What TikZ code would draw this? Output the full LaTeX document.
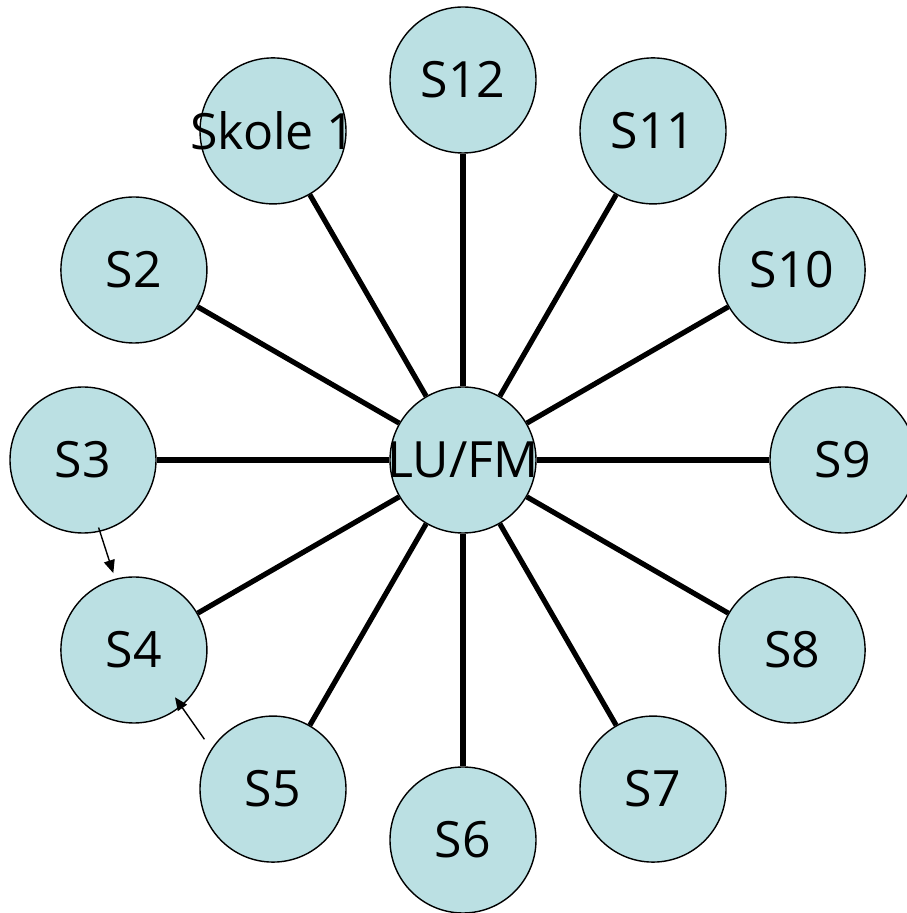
\documentclass[tikz,border=0pt]{standalone}
\usepackage{fontspec}
\setmainfont{Open Sans}
\usetikzlibrary{calc,arrows.meta}
\definecolor{nodefill}{HTML}{BBE0E3}
\tikzset{
  circ/.style={circle,draw=black,line width=1.4pt,fill=nodefill,minimum size=146pt,inner sep=0pt},
  spoke/.style={line width=5.2pt,black},
  lbl/.style={font=\fontsize{50}{58}\selectfont,inner sep=0pt},
  thinarrow/.style={line width=1.4pt,-{Triangle[length=13pt,width=11pt]}}
}
\begin{document}
\begin{tikzpicture}[x=1pt,y=1pt]
\useasboundingbox (0,0) rectangle (906,913);
\coordinate (Cc) at (463,453);
\node[circ] (C) at (Cc) {};
\node[circ] (S12) at ($(Cc)+(90:380pt)$) {};
\node[circ] (S1) at ($(Cc)+(120:380pt)$) {};
\node[circ] (S2) at ($(Cc)+(150:380pt)$) {};
\node[circ] (S3) at ($(Cc)+(180:380pt)$) {};
\node[circ] (S4) at ($(Cc)+(210:380pt)$) {};
\node[circ] (S5) at ($(Cc)+(240:380pt)$) {};
\node[circ] (S6) at ($(Cc)+(270:380pt)$) {};
\node[circ] (S7) at ($(Cc)+(300:380pt)$) {};
\node[circ] (S8) at ($(Cc)+(330:380pt)$) {};
\node[circ] (S9) at ($(Cc)+(0:380pt)$) {};
\node[circ] (S10) at ($(Cc)+(30:380pt)$) {};
\node[circ] (S11) at ($(Cc)+(60:380pt)$) {};
\foreach \n in {S1,S2,S3,S4,S5,S6,S7,S8,S9,S10,S11,S12}
  \draw[spoke] (C) -- (\n);
\node[lbl] (tC) at (C) {LU/FM};
\node[lbl] (t1) at (S1) {Skole 1};
\node[lbl] (t2) at (S2) {S2};
\node[lbl] (t3) at (S3) {S3};
\node[lbl] (t4) at (S4) {S4};
\node[lbl] (t5) at (S5) {S5};
\node[lbl] (t6) at (S6) {S6};
\node[lbl] (t7) at (S7) {S7};
\node[lbl] (t8) at (S8) {S8};
\node[lbl] (t9) at (S9) {S9};
\node[lbl] (t10) at (S10) {S10};
\node[lbl] (t11) at (S11) {S11};
\node[lbl] (t12) at (S12) {S12};
\draw[thinarrow] ($(S3.center)!0.94!(S3.-77)$) -- ($(S4.center)!1.08!(S4.105)$);
\draw[thinarrow] ($(S5.center)!1.15!(S5.144)$) -- ($(S4.center)!0.85!(S4.-49)$);
\end{tikzpicture}
\end{document}
